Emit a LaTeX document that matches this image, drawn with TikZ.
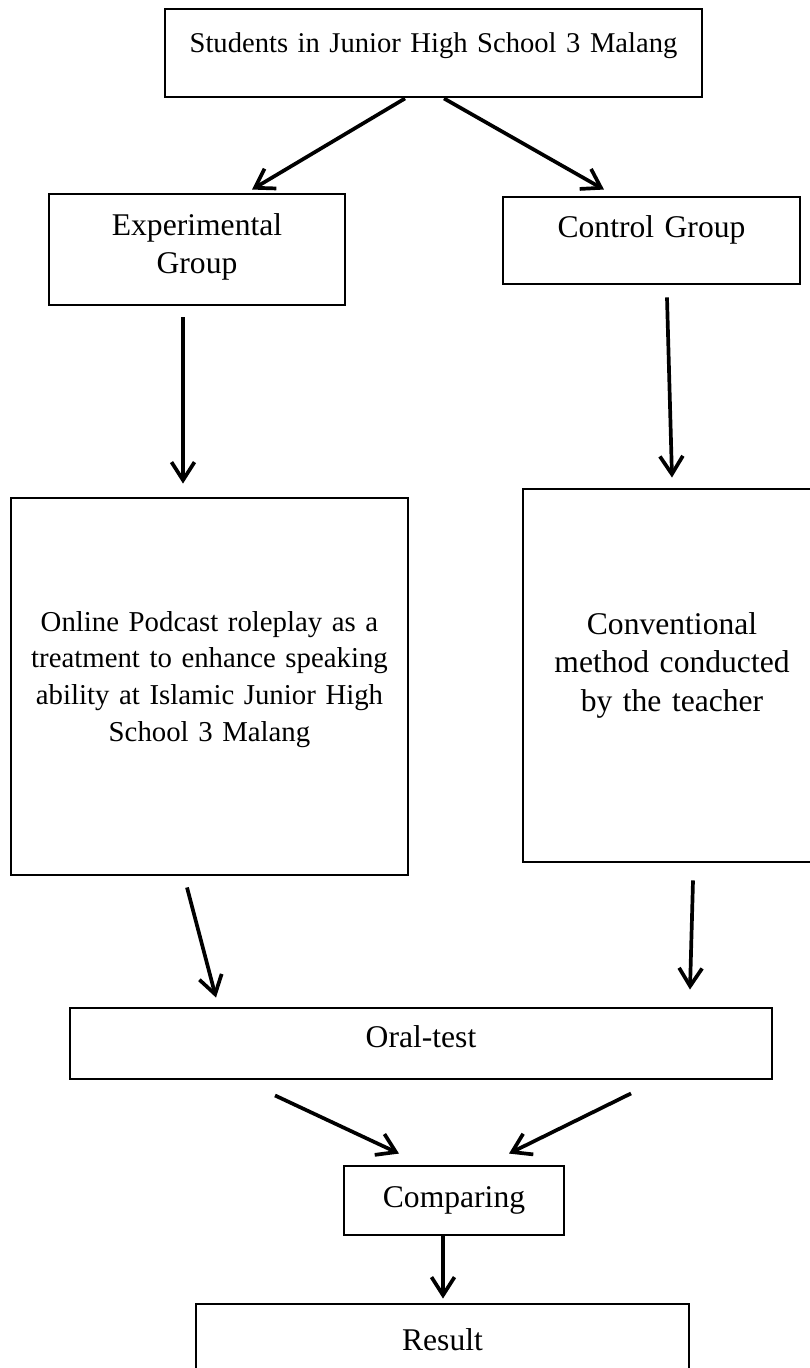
\documentclass[tikz,border=0pt]{standalone}
\usepackage{fontspec}
\setmainfont{Liberation Serif}
\usetikzlibrary{arrows.meta}
\tikzset{
  box/.style={draw, line width=2.9pt, inner sep=0pt, align=center},
  fsmall/.style={font=\fontsize{28.6}{36.7}\selectfont},
  fpod/.style={font=\fontsize{28.8}{36.7}\selectfont},
  fbig/.style={font=\fontsize{31.6}{38.5}\selectfont},
  conn/.style={line width=3.7pt, -{Straight Barb[length=18pt,width=23pt]}},
}
\begin{document}
\begin{tikzpicture}[x=1pt,y=-1pt]
\useasboundingbox (0,0) rectangle (809,1368);
\node[box, fsmall, minimum width=537pt, minimum height=88pt, text width=520pt, text height=20pt, text depth=22pt] (top) at (433.5,53) {Students in Junior High School 3 Malang};
\node[box, fbig, minimum width=296pt, minimum height=111pt, text width=280pt, text height=21pt, text depth=50pt] (exp) at (197,249.5) {Experimental\\Group};
\node[box, fbig, minimum width=297pt, minimum height=87pt, text width=280pt, text height=20pt, text depth=27pt] (ctl) at (651.5,240.5) {Control Group};
\node[box, fpod, minimum width=397pt, minimum height=377pt, text width=390pt, text height=20pt, text depth=131pt] (pod) at (209.5,686.5) {Online Podcast roleplay as a\\treatment to enhance speaking\\ability at Islamic Junior High\\School 3 Malang};
\node[box, fbig, minimum width=298pt, minimum height=373pt, text width=290pt, text height=21pt, text depth=104pt] (conv) at (672,675.5) {Conventional\\method conducted\\by the teacher};
\node[box, fbig, minimum width=702pt, minimum height=71pt, text width=680pt, text height=22pt, text depth=15pt] (oral) at (421,1043.5) {Oral-test};
\node[box, fbig, minimum width=220pt, minimum height=69pt, text width=210pt, text height=22pt, text depth=9pt] (cmp) at (454,1200.5) {Comparing};
\node[box, fbig, minimum width=493pt, minimum height=86pt, text width=480pt, text height=20pt, text depth=14pt] (res) at (442.5,1347) {Result};

\draw[conn] ([xshift=-28.5pt]top.south) -- ([xshift=55pt,yshift=3pt]exp.north);
\draw[conn] ([xshift=10.5pt]top.south) -- ([xshift=-47.5pt,yshift=6pt]ctl.north);
\draw[conn] ([xshift=-14pt,yshift=-11pt]exp.south) -- ([xshift=-26.5pt,yshift=13pt]pod.north);
\draw[conn] ([xshift=15.5pt,yshift=-12pt]ctl.south) -- ([yshift=10pt]conv.north);
\draw[conn] ([xshift=-22.5pt,yshift=-11pt]pod.south) -- ([xshift=-205pt,yshift=9pt]oral.north);
\draw[conn] ([xshift=21pt,yshift=-17pt]conv.south) -- ([xshift=269pt,yshift=17pt]oral.north);
\draw[conn] ([xshift=-146pt,yshift=-15pt]oral.south) -- ([xshift=-55pt,yshift=11pt]cmp.north);
\draw[conn] ([xshift=210pt,yshift=-13pt]oral.south) -- ([xshift=55pt,yshift=11pt]cmp.north);
\draw[conn] ([xshift=-11pt]cmp.south) -- ([xshift=0.5pt,yshift=4pt]res.north);
\end{tikzpicture}
\end{document}
